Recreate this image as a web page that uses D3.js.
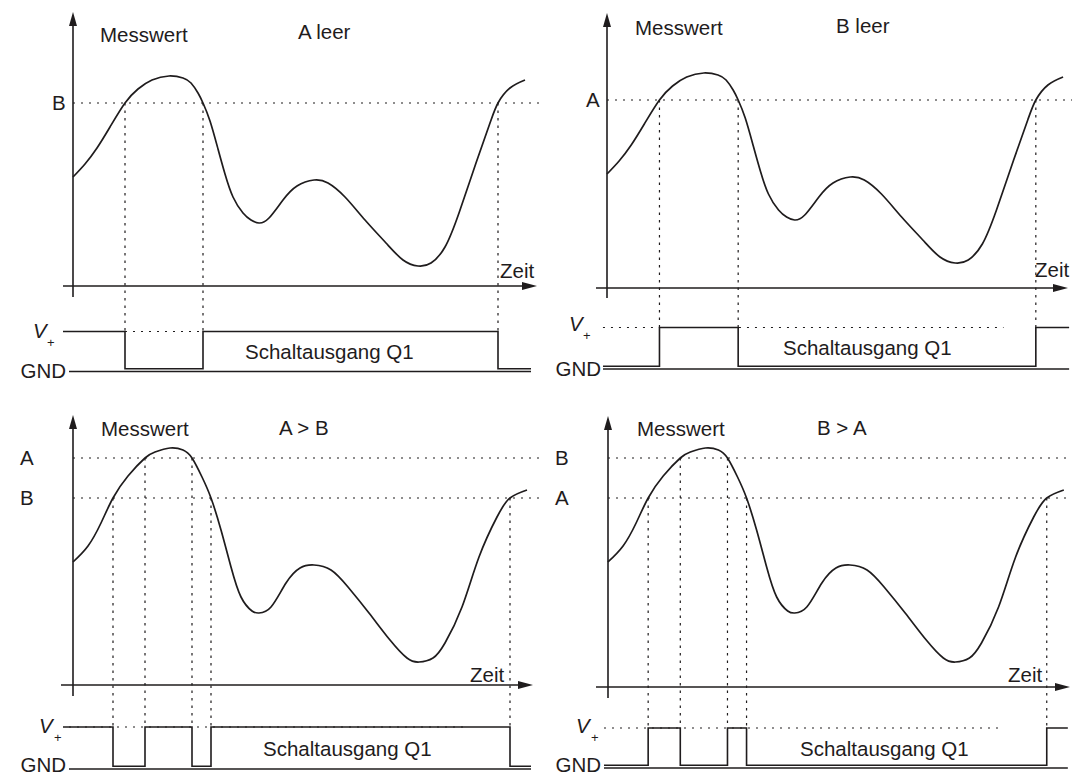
<!DOCTYPE html>
<html>
<head>
<meta charset="utf-8">
<script src="https://cdn.jsdelivr.net/npm/d3@7"></script>
<style>
body { margin: 0; background: #fff; }
svg { display: block; font-family: "Liberation Sans", Arial, sans-serif; }
</style>
</head>
<body>
<svg width="1072" height="776"></svg>
<script>
const topTime = [0,12,24,37,52,65,79,96,110,118,125,130,137,145,152,160,170,178,186,196,210,224,241,255,272,292,313,330,345,358,372,386,403,417,425,437,452];
const topValue = [109,122,138,159,183,197,206,210,208,203,193,183,165,137,112,89,73,66,63,68,86,100,106,103,89,66,43,26,20,23,39,73,123,163,183,198,206];
const bottomTime = [0,15,28,40,55,72,82,97,110,119,129,138,148,158,168,179,186,198,213,227,241,258,275,296,317,334,346,360,372,389,406,424,437,454];
const bottomValue = [123,139,162,187,209,227,233,237,235,227,208,187,155,118,88,74,72,78,102,117,120,115,98,72,45,27,23,27,42,78,128,168,187,195];

const panelTitles = ['A leer', 'B leer', 'A > B', 'B > A'];
const thresholdLabels = [['B'], ['A'], ['A', 'B'], ['B', 'A']];
const thresholdValues = [[183], [183], [227, 187], [227, 187]];
// time where the curve crosses a threshold, and which threshold
const switchTimes = [[52, 130, 425], [52, 130, 425], [40, 72, 119, 138, 437], [40, 72, 119, 138, 437]];
const switchLevel = [[0, 0, 0], [0, 0, 0], [1, 0, 0, 1, 1], [1, 0, 0, 1, 1]];
const startState = [1, 0, 1, 0]; // 1 = V+, 0 = GND

// layout of the four panels
const panels = [
  { x0: 73, sx: 1, axisY: 286, baseY: 286, yTop: 12, yBot: 297, axStart: 63, axEnd: 537, vY: 331.5, gndY: 371.5,
    mess: [100, 42], title: [298, 39], labelX: 52, zeit: [500, 278], vLab: [33, 338], plus: [47, 347], gnd: [66, 378], schalt: [245, 359], right: 540 },
  { x0: 607, sx: 1.009, axisY: 288, baseY: 283, yTop: 13, yBot: 298, axStart: 596, axEnd: 1068, vY: 327.5, gndY: 369,
    mess: [635, 35], title: [836, 33], labelX: 586, zeit: [1035, 277], vLab: [569, 331], plus: [583, 340], gnd: [601, 376], schalt: [783, 355], right: 1072 },
  { x0: 73, sx: 1, axisY: 685, baseY: 685, yTop: 415, yBot: 696, axStart: 61, axEnd: 533, vY: 727, gndY: 769,
    mess: [101, 436], title: [279, 435], labelX: 20, zeit: [470, 682], vLab: [39, 733], plus: [54, 742], gnd: [66, 772], schalt: [263, 756], right: 540 },
  { x0: 608, sx: 1.004, axisY: 687, baseY: 685, yTop: 416, yBot: 698, axStart: 596, axEnd: 1070, vY: 728, gndY: 768,
    mess: [637, 436], title: [817, 435], labelX: 555, zeit: [1008, 682], vLab: [576, 733], plus: [591, 742], gnd: [601, 772], schalt: [800, 756], right: 1072 }
];

const ink = '#1f1c1d';
const fs = '20.5px';
const svg = d3.select('svg');

panels.forEach((p, i) => {
  const g = svg.append('g');
  const x = d3.scaleLinear().domain([0, 455]).range([p.x0, p.x0 + 455 * p.sx]);
  const y = d3.scaleLinear().domain([0, 250]).range([p.baseY, p.baseY - 250]);

  const times = i < 2 ? topTime : bottomTime;
  const values = i < 2 ? topValue : bottomValue;
  const pts = times.map((t, k) => [t, values[k]]);

  // threshold lines
  thresholdValues[i].forEach((v, k) => {
    g.append('line')
      .attr('x1', p.x0).attr('x2', p.right)
      .attr('y1', y(v)).attr('y2', y(v))
      .attr('stroke', ink).attr('stroke-width', 1.2)
      .attr('stroke-dasharray', '2,6');
    g.append('text')
      .attr('x', p.labelX).attr('y', y(v) + 7.3)
      .attr('font-size', fs).attr('fill', ink)
      .text(thresholdLabels[i][k]);
  });

  // vertical guide lines down to V+
  switchTimes[i].forEach((t, k) => {
    g.append('line')
      .attr('x1', x(t)).attr('x2', x(t))
      .attr('y1', y(thresholdValues[i][switchLevel[i][k]])).attr('y2', p.vY)
      .attr('stroke', ink).attr('stroke-width', 1.2)
      .attr('stroke-dasharray', '2.5,5');
  });

  // V+ reference line
  g.append('line')
    .attr('x1', x(-4)).attr('x2', x(393))
    .attr('y1', p.vY).attr('y2', p.vY)
    .attr('stroke', ink).attr('stroke-width', 1.2)
    .attr('stroke-dasharray', '2,6');

  // axes
  g.append('line')
    .attr('x1', p.x0).attr('x2', p.x0)
    .attr('y1', p.yBot).attr('y2', p.yTop + 10)
    .attr('stroke', ink).attr('stroke-width', 1.6);
  g.append('path')
    .attr('d', `M${p.x0},${p.yTop}L${p.x0 - 4},${p.yTop + 14}L${p.x0 + 4},${p.yTop + 14}Z`)
    .attr('fill', ink);
  g.append('line')
    .attr('x1', p.axStart).attr('x2', p.axEnd - 10)
    .attr('y1', p.axisY).attr('y2', p.axisY)
    .attr('stroke', ink).attr('stroke-width', 1.6);
  g.append('path')
    .attr('d', `M${p.axEnd},${p.axisY}L${p.axEnd - 15},${p.axisY - 4}L${p.axEnd - 15},${p.axisY + 4}Z`)
    .attr('fill', ink);

  // measured value curve
  const line = d3.line()
    .x((d) => x(d[0]))
    .y((d) => y(d[1]))
    .curve(d3.curveNatural);
  g.append('path')
    .attr('d', line(pts))
    .attr('fill', 'none')
    .attr('stroke', ink).attr('stroke-width', 1.7);

  // GND rail
  g.append('line')
    .attr('x1', x(-4)).attr('x2', x(458))
    .attr('y1', p.gndY).attr('y2', p.gndY)
    .attr('stroke', ink).attr('stroke-width', 1.5);

  // switching output
  let state = startState[i];
  const sig = [[state ? -10 : -4, state]];
  switchTimes[i].forEach((t) => {
    state = 1 - state;
    sig.push([t, state]);
  });
  sig.push([458, state]);
  const step = d3.line()
    .x((d) => x(d[0]))
    .y((d) => (d[1] ? p.vY : p.gndY - 2.8))
    .curve(d3.curveStepAfter);
  g.append('path')
    .attr('d', step(sig))
    .attr('fill', 'none')
    .attr('stroke', ink).attr('stroke-width', 1.6);

  // texts
  const txt = (pos, s, opts = {}) => g.append('text')
    .attr('x', pos[0]).attr('y', pos[1])
    .attr('font-size', opts.size || fs)
    .attr('font-style', opts.italic ? 'italic' : null)
    .attr('text-anchor', opts.anchor || 'start')
    .attr('fill', ink)
    .text(s);

  txt(p.mess, 'Messwert');
  txt(p.title, panelTitles[i]);
  txt(p.zeit, 'Zeit');
  txt(p.vLab, 'V', { italic: true });
  txt(p.plus, '+', { size: '13px' });
  txt(p.gnd, 'GND', { anchor: 'end' });
  txt(p.schalt, 'Schaltausgang Q1');
});
</script>
</body>
</html>
